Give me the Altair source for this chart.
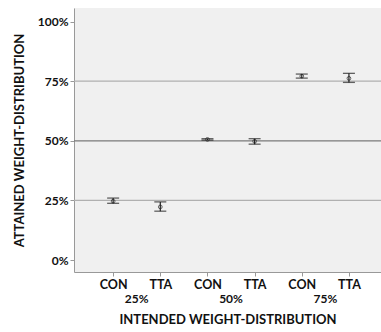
import altair as alt
import pandas as pd

groups = ["25%", "25%", "50%", "50%", "75%", "75%"]
conditions = ["CON", "TTA", "CON", "TTA", "CON", "TTA"]
positions = [1, 2, 3, 4, 5, 6]
means = [24.7, 22.3, 50.6, 49.8, 77.1, 76.2]
lower = [23.8, 20.5, 50.3, 48.6, 76.3, 74.5]
upper = [26.0, 24.4, 50.9, 50.9, 78.0, 78.3]

group_labels = ["25%", "50%", "75%"]
group_pos = [1.5, 3.5, 5.5]
ref_values = [25, 50, 75]
ref_colors = ["#b0b0b0", "#7a7a7a", "#b0b0b0"]

df = pd.DataFrame({"pos": positions, "cond": conditions, "grp": groups,
                   "mean": means, "lo": lower, "hi": upper})
gdf = pd.DataFrame({"pos": group_pos, "label": group_labels})
rdf = pd.DataFrame({"v": ref_values, "c": ref_colors})

FONT = "Lato"
xscale = alt.Scale(domain=[0.17, 6.68], nice=False, zero=False)
yscale = alt.Scale(domain=[-5, 105.7], nice=False, zero=False)

label_expr = "datum.value % 2 == 1 ? 'CON' : 'TTA'"

x_enc = alt.X("pos:Q", scale=xscale, axis=alt.Axis(
    values=positions, labelExpr=label_expr, grid=False,
    title="INTENDED WEIGHT-DISTRIBUTION", titleFont=FONT, titleFontSize=13,
    titleFontWeight="bold", titleColor="#111", titlePadding=23,
    labelFont=FONT, labelFontSize=12.5, labelFontWeight="bold", labelColor="#111",
    labelPadding=2, tickSize=4, tickColor="#999", domainColor="#999"))
y_enc = alt.Y("mean:Q", scale=yscale, axis=alt.Axis(
    values=[0, 25, 50, 75, 100], labelExpr="datum.value + '%'", grid=False,
    title="ATTAINED WEIGHT-DISTRIBUTION", titleFont=FONT, titleFontSize=13,
    titleFontWeight="bold", titleColor="#111", titlePadding=11,
    labelFont=FONT, labelFontSize=12, labelFontWeight="bold", labelColor="#111",
    labelPadding=2, tickSize=4, tickColor="#999", domainColor="#999"))

refs = alt.Chart(rdf).mark_rule(strokeWidth=1.2).encode(
    y=alt.Y("v:Q", scale=yscale),
    color=alt.Color("c:N", scale=None),
)

base = alt.Chart(df)
points = base.mark_point(shape="circle", size=14, color="#222", strokeWidth=1, filled=False).encode(
    x=x_enc, y=y_enc)
bars = base.mark_rule(color="#222", strokeWidth=1.2).encode(
    x=alt.X("pos:Q", scale=xscale), y=alt.Y("lo:Q", scale=yscale), y2="hi:Q")
cap_lo = base.mark_tick(orient="horizontal", size=12, thickness=1.3, color="#222").encode(
    x=alt.X("pos:Q", scale=xscale), y=alt.Y("lo:Q", scale=yscale))
cap_hi = base.mark_tick(orient="horizontal", size=12, thickness=1.3, color="#222").encode(
    x=alt.X("pos:Q", scale=xscale), y=alt.Y("hi:Q", scale=yscale))

glabels = alt.Chart(gdf).mark_text(font=FONT, fontSize=12, fontWeight="bold", color="#111",
                                   baseline="middle", clip=False).encode(
    x=alt.X("pos:Q", scale=xscale), y=alt.value(291), text="label:N")

chart = alt.layer(refs, bars, cap_lo, cap_hi, points, glabels).properties(
    width=307, height=264,
    autosize=alt.AutoSizeParams(type="none"),
    padding={"left": 74, "top": 8, "right": 0, "bottom": 60},
    background="white",
).configure_view(fill="#f0f0f0", stroke=None)

chart.save("out.html", embed_options={"renderer": "svg", "actions": False})
